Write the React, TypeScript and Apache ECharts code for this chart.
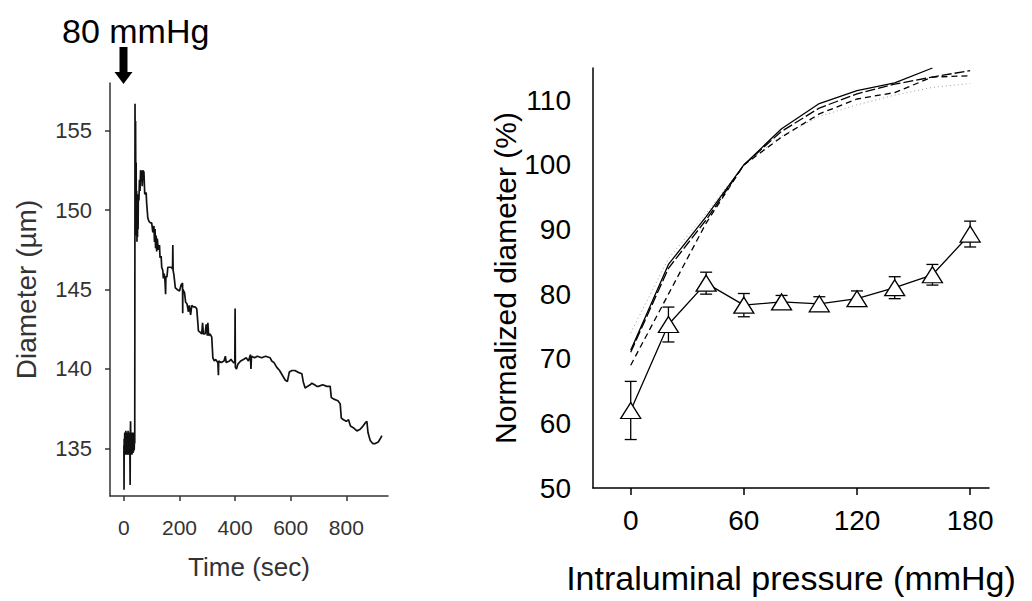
import React, { useEffect, useRef } from "react";
import * as echarts from "echarts";

// ---------- Left panel: diameter trace ----------
const traceT = [
  0, 0.5, 1, 2, 3, 4, 5, 6, 7, 8, 9, 10, 11, 12, 13, 14, 15, 16, 17, 18, 19, 20, 21, 22.5, 23, 24, 25, 26, 27, 28, 29, 30,
  31, 32, 33, 34, 35, 36, 37, 38, 39, 40, 41, 42, 43, 44, 45, 46, 47, 48, 49, 50, 51, 52, 54, 56, 58, 60, 64, 66, 68, 72,
  75, 80, 82, 86, 90, 95, 100, 104, 108, 110, 112, 114, 116, 118, 120, 124, 128, 130, 134, 136, 140, 142, 145, 148, 150,
  151, 155, 158, 165, 170, 175, 176, 177, 180, 185, 192, 200, 206, 211, 211.5, 212, 218, 222, 227, 232, 235, 240, 244,
  250, 256, 262, 266, 268, 275, 280, 283, 286, 292, 296, 300, 302, 305, 310, 316, 320, 325, 330, 338, 340, 341, 350, 360,
  365, 368, 380, 385, 394, 399, 400, 401, 405, 410, 420, 430, 440, 448, 455, 457, 459, 470, 480, 495, 510, 526, 532, 540,
  550, 560, 570, 580, 588, 595, 605, 615, 625, 640, 645, 652, 660, 670, 676, 686, 694, 700, 715, 730, 742, 746, 755, 770,
  778, 782, 790, 800, 808, 815, 825, 838, 850, 860, 868, 874, 878, 886, 895, 904, 915, 922, 928,
];
const traceD = [
  135.2, 132.4, 135.6, 134.8, 136.0, 134.7, 135.9, 134.6, 136.1, 134.8, 135.8, 134.6, 136.0, 134.7, 135.9, 134.8, 136.1,
  134.6, 135.8, 134.9, 136.0, 134.7, 135.9, 132.7, 135.8, 136.7, 134.8, 136.0, 134.7, 135.9, 134.6, 136.0, 134.8, 135.9,
  134.7, 136.0, 134.8, 135.8, 134.9, 135.6, 135.3, 156.7, 152.0, 155.6, 150.5, 153.0, 148.4, 151.2, 148.0, 150.8, 148.3,
  150.5, 148.8, 151.0, 150.6, 151.9, 151.2, 152.5, 152.4, 151.5, 152.5, 152.4, 151.0, 151.1, 150.4, 149.5, 149.3, 149.2,
  149.2, 148.6, 149.0, 148.0, 148.8, 147.6, 148.4, 147.4, 148.2, 147.5, 147.8, 147.0, 147.1, 146.4, 146.2, 145.7, 146.0,
  145.5, 144.7, 145.8, 145.8, 146.4, 146.4, 146.4, 146.3, 147.8, 146.2, 145.9, 145.1, 145.0, 144.9, 145.3, 145.4, 143.5,
  145.0, 144.8, 144.2, 144.1, 143.6, 144.0, 143.4, 144.0, 143.9, 143.9, 143.8, 142.9, 142.4, 142.3, 142.2, 142.9, 142.2,
  142.2, 142.8, 142.1, 142.9, 142.1, 142.2, 142.0, 140.7, 140.5, 140.6, 140.4, 139.6, 140.5, 140.4, 140.5, 140.8, 140.4,
  140.5, 140.6, 140.4, 140.4, 143.8, 140.1, 140.0, 140.3, 140.5, 140.6, 140.7, 140.5, 140.9, 140.0, 140.8, 140.7, 140.8,
  140.7, 140.8, 140.7, 140.5, 140.4, 140.1, 139.9, 139.6, 139.3, 139.2, 139.8, 139.9, 139.9, 139.8, 139.7, 139.2, 138.8,
  138.9, 139.0, 139.1, 139.0, 138.9, 138.9, 139.0, 138.9, 138.9, 138.2, 138.1, 138.0, 137.8, 136.9, 136.8, 136.7, 136.8,
  136.4, 136.3, 136.1, 136.2, 136.4, 136.6, 136.7, 136.0, 135.5, 135.3, 135.3, 135.4, 135.6, 135.8,
];
const timeTicks = [0, 200, 400, 600, 800];
const diamTicks = [135, 140, 145, 150, 155];

// ---------- Right panel: normalized diameter vs pressure ----------
const pressures = [0, 20, 40, 60, 80, 100, 120, 140, 160, 180];
const meanDiam = [62.0, 75.3, 81.7, 78.3, 78.8, 78.5, 79.3, 81.0, 83.0, 89.3];
const semDiam = [4.5, 2.7, 1.7, 1.8, 1.0, 1.1, 1.2, 1.7, 1.6, 2.0];
const refSolid = [71.3, 84.6, 92.0, 100, 105.6, 109.5, 111.5, 112.7, 115.0];
const refLongDash = [71.0, 84.0, 91.5, 100, 105.2, 108.8, 111.0, 112.5, 113.6, 114.6];
const refDash = [69.0, 80.0, 91.0, 100, 104.3, 107.9, 110.2, 111.2, 113.6, 113.8];
const refDotted = [74.0, 85.5, 92.5, 100, 104.5, 107.5, 109.3, 110.8, 112.0, 112.6];
const pressureTicks = [0, 60, 120, 180];
const normTicks = [50, 60, 70, 80, 90, 100, 110];

const FONT = "'Liberation Sans', Arial, sans-serif";

export default function App() {
  const ref = useRef<HTMLDivElement>(null);
  useEffect(() => {
    if (!ref.current) return;
    const chart = echarts.init(ref.current, undefined, { renderer: "svg" });
    const pair = (xs: number[], ys: number[]) => ys.map((y, i) => [xs[i], y]);
    const option: any = {
      animation: false,
      backgroundColor: "#fff",
      textStyle: { fontFamily: FONT },
      grid: [
        { left: 110, top: 83, width: 278, height: 413, outerBoundsMode: "none" },
        { left: 593, top: 68, width: 396, height: 420, outerBoundsMode: "none" },
      ],
      xAxis: [
        {
          type: "value",
          gridIndex: 0,
          min: -50,
          max: 950,
          splitLine: { show: false },
          axisLine: { onZero: false, lineStyle: { color: "#333", width: 1.5 } },
          axisTick: { show: true, length: 5, customValues: timeTicks, lineStyle: { color: "#333", width: 1.5 } },
          axisLabel: { customValues: timeTicks, fontSize: 21, color: "#333", margin: 21, fontFamily: FONT },
          name: "Time (sec)",
          nameLocation: "middle",
          nameGap: 58,
          nameTextStyle: { fontSize: 26, color: "#333", fontFamily: FONT },
        },
        {
          type: "value",
          gridIndex: 1,
          min: -20,
          max: 190,
          splitLine: { show: false },
          axisLine: { onZero: false, lineStyle: { color: "#000", width: 1.5 } },
          axisTick: { show: true, length: 7, customValues: pressureTicks, lineStyle: { color: "#000", width: 1.5 } },
          axisLabel: { customValues: pressureTicks, fontSize: 28, color: "#000", margin: 18, fontFamily: FONT },
          name: "Intraluminal pressure (mmHg)",
          nameLocation: "middle",
          nameGap: 73,
          nameTextStyle: { fontSize: 34, color: "#000", fontFamily: FONT },
        },
      ],
      yAxis: [
        {
          type: "value",
          gridIndex: 0,
          min: 132,
          max: 158,
          splitLine: { show: false },
          axisLine: { show: true, onZero: false, lineStyle: { color: "#333", width: 1.5 } },
          axisTick: { show: true, length: 5, customValues: diamTicks, lineStyle: { color: "#333", width: 1.5 } },
          axisLabel: { customValues: diamTicks, fontSize: 22, color: "#333", margin: 18, fontFamily: FONT },
          name: "Diameter (\u00b5m)",
          nameLocation: "middle",
          nameGap: 70,
          nameTextStyle: { fontSize: 28, color: "#333", fontFamily: FONT },
        },
        {
          type: "value",
          gridIndex: 1,
          min: 50,
          max: 115,
          splitLine: { show: false },
          axisLine: { show: true, onZero: false, lineStyle: { color: "#000", width: 1.5 } },
          axisTick: { show: false },
          axisLabel: { customValues: normTicks, fontSize: 28, color: "#000", margin: 22, fontFamily: FONT },
          name: "Normalized diameter (%)",
          nameLocation: "middle",
          nameGap: 54,
          nameTextStyle: { fontSize: 30, color: "#000", fontFamily: FONT },
        },
      ],
      series: [
        {
          type: "line",
          xAxisIndex: 0,
          yAxisIndex: 0,
          data: pair(traceT, traceD),
          showSymbol: false,
          symbol: "none",
          lineStyle: { color: "#111", width: 1.7 },
          z: 2,
        },
        {
          type: "line",
          xAxisIndex: 1,
          yAxisIndex: 1,
          data: pair(pressures, refDotted),
          symbol: "none",
          lineStyle: { color: "#9a9a9a", width: 1, type: [1, 3] },
          z: 1,
        },
        {
          type: "line",
          xAxisIndex: 1,
          yAxisIndex: 1,
          data: pair(pressures, refDash),
          symbol: "none",
          lineStyle: { color: "#000", width: 1.3, type: [6, 4] },
          z: 1,
        },
        {
          type: "line",
          xAxisIndex: 1,
          yAxisIndex: 1,
          data: pair(pressures, refLongDash),
          symbol: "none",
          lineStyle: { color: "#000", width: 1.3, type: [10, 3] },
          z: 1,
        },
        {
          type: "line",
          xAxisIndex: 1,
          yAxisIndex: 1,
          data: pair(pressures, refSolid),
          symbol: "none",
          lineStyle: { color: "#000", width: 1.3 },
          z: 1,
        },
        {
          type: "custom",
          xAxisIndex: 1,
          yAxisIndex: 1,
          data: pressures.map((p, i) => [p, meanDiam[i], semDiam[i]]),
          encode: { x: 0, y: 1 },
          z: 2,
          renderItem: (params: any, api: any) => {
            const x = api.value(0);
            const m = api.value(1);
            const e = api.value(2);
            const top = api.coord([x, m + e]);
            const bot = api.coord([x, m - e]);
            const half = 6;
            const st = { stroke: "#000", lineWidth: 1.3 };
            return {
              type: "group",
              children: [
                { type: "line", shape: { x1: top[0], y1: top[1], x2: bot[0], y2: bot[1] }, style: st },
                { type: "line", shape: { x1: top[0] - half, y1: top[1], x2: top[0] + half, y2: top[1] }, style: st },
                { type: "line", shape: { x1: bot[0] - half, y1: bot[1], x2: bot[0] + half, y2: bot[1] }, style: st },
              ],
            };
          },
        },
        {
          type: "line",
          xAxisIndex: 1,
          yAxisIndex: 1,
          data: pair(pressures, meanDiam),
          symbol: "triangle",
          symbolSize: [20, 16],
          showSymbol: true,
          itemStyle: { color: "#fff", borderColor: "#000", borderWidth: 1.3 },
          lineStyle: { color: "#000", width: 1.3 },
          z: 3,
        },
      ],
      graphic: [
        {
          type: "text",
          left: 62,
          top: 14,
          style: { text: "80 mmHg", fontSize: 34, fill: "#000", fontFamily: FONT },
        },
        {
          type: "rect",
          shape: { x: 119.5, y: 47, width: 8, height: 26 },
          style: { fill: "#000" },
        },
        {
          type: "polygon",
          shape: { points: [[114.5, 72], [132.5, 72], [123.5, 84]] },
          style: { fill: "#000" },
        },
      ],
    };
    chart.setOption(option);
    return () => chart.dispose();
  }, []);
  return (
    <div
      ref={ref}
      style={{ position: "absolute", left: 0, top: 0, width: 1032, height: 601, background: "#fff" }}
    />
  );
}
